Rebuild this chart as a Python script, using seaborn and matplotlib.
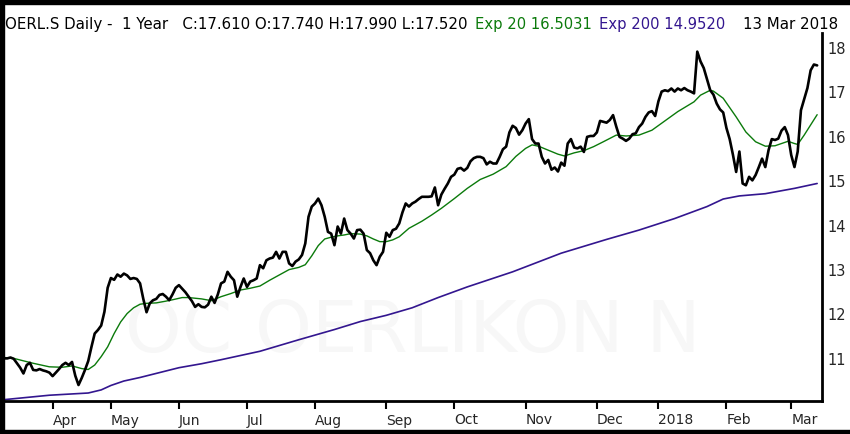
import matplotlib
matplotlib.use("Agg")
import matplotlib.pyplot as plt
from matplotlib.patches import Rectangle
import pandas as pd
import seaborn as sns

# SIX trading calendar, 13 Mar 2017 - 13 Mar 2018
holidays = ["2017-04-14", "2017-04-17", "2017-05-01", "2017-05-25",
            "2017-06-05", "2017-08-01", "2017-12-25", "2017-12-26",
            "2018-01-01", "2018-01-02"]

# daily close, one value per session
close = [
    11.01, 11.01, 11.03, 11.00, 10.90, 10.80, 10.67, 10.86, 10.91, 10.75,
    10.74, 10.77, 10.74, 10.72, 10.69, 10.61, 10.69, 10.77, 10.86, 10.91,
    10.86, 10.93, 10.62, 10.41, 10.57, 10.75, 10.95, 11.27, 11.57, 11.65,
    11.75, 12.06, 12.60, 12.82, 12.78, 12.90, 12.85, 12.92, 12.88, 12.80,
    12.82, 12.80, 12.70, 12.35, 12.05, 12.25, 12.32, 12.35, 12.44, 12.46,
    12.40, 12.32, 12.45, 12.60, 12.66, 12.58, 12.50, 12.40, 12.30, 12.17,
    12.23, 12.17, 12.16, 12.22, 12.40, 12.26, 12.45, 12.70, 12.74, 12.96,
    12.85, 12.77, 12.40, 12.62, 12.81, 12.62, 12.74, 12.77, 12.81, 13.11,
    13.04, 13.22, 13.26, 13.28, 13.41, 13.26, 13.41, 13.41, 13.15, 13.09,
    13.19, 13.24, 13.34, 13.60, 14.20, 14.43, 14.50, 14.61, 14.46, 14.20,
    13.86, 13.82, 13.56, 13.98, 13.82, 14.16, 13.90, 13.82, 13.71, 13.90,
    13.91, 13.82, 13.45, 13.38, 13.22, 13.11, 13.30, 13.41, 13.84, 13.75,
    13.90, 13.93, 14.05, 14.30, 14.50, 14.43, 14.50, 14.54, 14.60, 14.65,
    14.65, 14.65, 14.66, 14.86, 14.46, 14.70, 14.83, 14.95, 15.10, 15.15,
    15.28, 15.30, 15.24, 15.30, 15.45, 15.52, 15.55, 15.55, 15.52, 15.38,
    15.44, 15.40, 15.40, 15.55, 15.72, 15.78, 16.10, 16.25, 16.20, 16.05,
    16.15, 16.30, 16.40, 15.95, 15.85, 15.85, 15.55, 15.40, 15.48, 15.26,
    15.31, 15.22, 15.42, 15.35, 15.85, 15.95, 15.76, 15.74, 15.78, 15.66,
    16.00, 16.02, 16.02, 16.10, 16.36, 16.34, 16.32, 16.38, 16.49, 16.23,
    16.00, 15.96, 15.91, 15.96, 16.06, 16.08, 16.22, 16.30, 16.45, 16.55,
    16.58, 16.47, 16.80, 17.02, 17.05, 17.03, 17.09, 17.02, 17.09, 17.05,
    17.10, 17.05, 17.02, 16.98, 17.92, 17.70, 17.55, 17.30, 17.05, 16.95,
    16.75, 16.62, 16.55, 16.20, 15.95, 15.60, 15.21, 15.67, 14.95, 14.91,
    15.10, 15.02, 15.14, 15.32, 15.51, 15.32, 15.70, 15.95, 15.93, 15.96,
    16.14, 16.22, 16.04, 15.59, 15.32, 15.67, 16.60, 16.85, 17.10, 17.50,
    17.63, 17.61,
]

# exponential averages, read at selected sessions
ema20_session = [0, 3, 9, 14, 18, 21, 24, 26, 28, 30, 32, 34, 36, 38, 40,
                 42, 44, 47, 50, 52, 55, 57, 61, 64, 67, 70, 73, 76, 79, 82,
                 85, 88, 91, 93, 95, 97, 99, 101, 103, 105, 107, 110, 112,
                 114, 116, 118, 120, 122, 125, 129, 132, 135, 139, 143, 147,
                 151, 155, 158, 161, 163, 165, 168, 171, 173, 176, 179, 182,
                 185, 189, 192, 196, 200, 204, 208, 213, 215, 218, 219, 222,
                 226, 229, 232, 235, 238, 240, 242, 244, 245, 247, 249, 251]
ema20 = [11.03, 11.01, 10.90, 10.82, 10.81, 10.84, 10.78, 10.76, 10.86,
         11.05, 11.27, 11.57, 11.83, 12.02, 12.15, 12.23, 12.25, 12.26,
         12.30, 12.33, 12.38, 12.38, 12.35, 12.31, 12.40, 12.47, 12.55,
         12.59, 12.64, 12.77, 12.89, 13.01, 13.06, 13.12, 13.32, 13.55,
         13.70, 13.74, 13.77, 13.79, 13.82, 13.81, 13.77, 13.70, 13.64,
         13.64, 13.68, 13.75, 13.94, 14.10, 14.24, 14.39, 14.61, 14.84,
         15.04, 15.16, 15.33, 15.56, 15.74, 15.82, 15.79, 15.70, 15.61,
         15.57, 15.64, 15.69, 15.78, 15.89, 16.04, 16.02, 16.04, 16.15,
         16.36, 16.57, 16.79, 16.94, 17.05, 17.03, 16.87, 16.45, 16.11,
         15.89, 15.79, 15.80, 15.85, 15.90, 15.85, 15.83, 16.04, 16.27,
         16.50]

ema200_session = [0, 14, 26, 30, 33, 37, 42, 48, 54, 61, 67, 79, 91, 102,
                  110, 118, 126, 134, 143, 157, 172, 186, 196, 207, 217,
                  222, 227, 235, 244, 251]
ema200 = [10.08, 10.18, 10.23, 10.30, 10.40, 10.50, 10.58, 10.69, 10.80,
          10.89, 10.98, 11.17, 11.43, 11.66, 11.84, 11.98, 12.15, 12.38,
          12.62, 12.96, 13.38, 13.69, 13.90, 14.16, 14.43, 14.60, 14.67,
          14.72, 14.84, 14.95]

month_labels = ["Apr", "May", "Jun", "Jul", "Aug", "Sep", "Oct", "Nov",
                "Dec", "2018", "Feb", "Mar"]
price_ticks = [11, 12, 13, 14, 15, 16, 17, 18]

GREEN = "#0b7a0b"
PURPLE = "#33168f"


def main():
    sns.set_style("white")
    plt.rcParams["font.family"] = ["DejaVu Sans"]

    days = pd.bdate_range("2017-03-13", "2018-03-13")
    days = days[~days.isin(pd.to_datetime(holidays))]
    session = pd.Series(range(len(days)), index=days)
    month_start = session.groupby([days.year, days.month]).first().values[1:]

    df = pd.DataFrame({"session": range(len(close)), "close": close})
    df20 = pd.DataFrame({"session": ema20_session, "ema": ema20})
    df200 = pd.DataFrame({"session": ema200_session, "ema": ema200})

    fig = plt.figure(figsize=(8.5, 4.34), dpi=100)
    ax = fig.add_axes([4 / 850, 33 / 434, 818 / 850, 368 / 434])

    ax.text(0.5, 0.185, "OC OERLIKON N", transform=ax.transAxes,
            ha="center", va="center", fontsize=52, color="#f7f7f7",
            zorder=0)

    sns.lineplot(data=df200, x="session", y="ema", color=PURPLE,
                 linewidth=1.2, ax=ax)
    sns.lineplot(data=df20, x="session", y="ema", color=GREEN,
                 linewidth=1.0, ax=ax)
    sns.lineplot(data=df, x="session", y="close", color="black",
                 linewidth=1.9, ax=ax)

    ax.set_xlim(0, 252.5)
    ax.set_ylim(10.05, 18.34)
    ax.set_xlabel("")
    ax.set_ylabel("")

    ax.set_xticks(month_start[:len(month_labels)])
    ax.set_xticklabels(month_labels, ha="left", fontsize=10)
    ax.tick_params(axis="x", direction="out", length=6, width=1.5,
                   color="black", pad=3, bottom=True)
    ax.yaxis.tick_right()
    ax.set_yticks(price_ticks)
    ax.set_yticklabels([str(t) for t in price_ticks], fontsize=10.5)
    ax.tick_params(axis="y", length=0, pad=4)

    for side in ["top", "left"]:
        ax.spines[side].set_visible(False)
    for side in ["bottom", "right"]:
        ax.spines[side].set_color("black")
        ax.spines[side].set_linewidth(2)

    base = 1 - 29 / 434
    fig.text(5 / 850, base,
             "OERL.S Daily -  1 Year   C:17.610 O:17.740 H:17.990 L:17.520",
             fontsize=10.8, va="baseline", color="black")
    fig.text(475 / 850, base, "Exp 20 16.5031", fontsize=10.6,
             va="baseline", color=GREEN)
    fig.text(599 / 850, base, "Exp 200 14.9520", fontsize=10.6,
             va="baseline", color=PURPLE)
    fig.text(838 / 850, base, "13 Mar 2018", fontsize=10.8,
             va="baseline", ha="right", color="black")

    # black frame strips of the original screenshot
    for rect in [(0, 1 - 4 / 434, 1, 4 / 434), (0, 0, 4 / 850, 1),
                 (0, 0, 1, 4 / 434)]:
        fig.add_artist(Rectangle(rect[:2], rect[2], rect[3],
                                 transform=fig.transFigure,
                                 color="black", zorder=10))

    fig.savefig("out.png", dpi=100)
    return


if __name__ == "__main__":
    main()
